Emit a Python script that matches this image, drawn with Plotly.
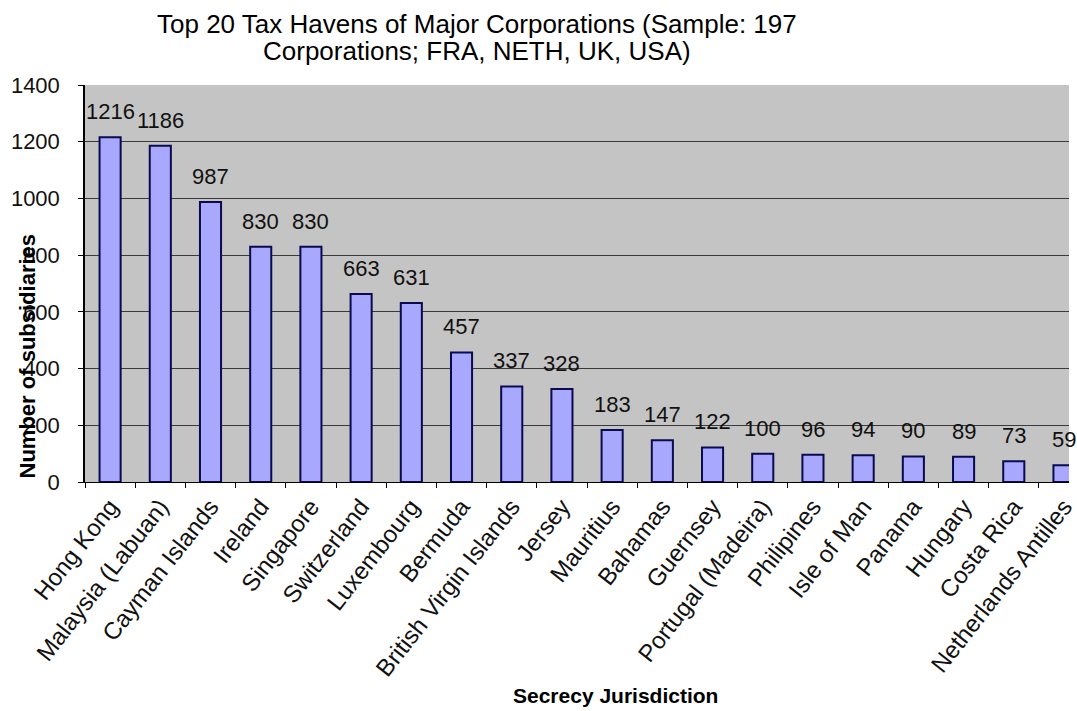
import plotly.graph_objects as go

# Secrecy jurisdictions and number of subsidiaries located there
jurisdictions = [
    "Hong Kong", "Malaysia (Labuan)", "Cayman Islands", "Ireland", "Singapore",
    "Switzerland", "Luxembourg", "Bermuda", "British Virgin Islands", "Jersey",
    "Mauritius", "Bahamas", "Guernsey", "Portugal (Madeira)", "Philipines",
    "Isle of Man", "Panama", "Hungary", "Costa Rica", "Netherlands Antilles",
]
subsidiaries = [1216, 1186, 987, 830, 830, 663, 631, 457, 337, 328,
                183, 147, 122, 100, 96, 94, 90, 89, 73, 59]
y_ticks = [0, 200, 400, 600, 800, 1000, 1200, 1400]
title_lines = ["Top 20 Tax Havens of Major Corporations (Sample: 197",
               "Corporations; FRA, NETH, UK, USA)"]

FONT = "Liberation Sans, Arial, sans-serif"
W, H = 1077, 711
L, R, T, B = 85, 0, 85, 229

fig = go.Figure()
fig.add_trace(go.Bar(
    x=jurisdictions,
    y=subsidiaries,
    marker=dict(color="#A8A8FF", line=dict(color="#0A0A50", width=2)),
    width=0.42,
    hoverinfo="x+y",
))

# value labels above the bars
for name, val in zip(jurisdictions, subsidiaries):
    fig.add_annotation(
        x=name, y=val, text=str(val), showarrow=False,
        yanchor="bottom", yshift=11,
        font=dict(family=FONT, size=22, color="#111111"),
    )

pw = W - L - R
ph = H - T - B


def px_x(x):
    return (x - L) / pw


def px_y(y):
    return (H - B - y) / ph


# chart title, one annotation per line for tight line spacing
for line, yc in zip(title_lines, [24, 51]):
    fig.add_annotation(
        xref="paper", yref="paper", x=px_x(480), y=px_y(yc),
        text=line, showarrow=False, xanchor="center", yanchor="middle",
        font=dict(family=FONT, size=26, color="#000000"),
    )

# axis titles
fig.add_annotation(
    xref="paper", yref="paper", x=px_x(27), y=px_y(356),
    text="<b>Number of subsidiaries</b>", textangle=-90, showarrow=False,
    xanchor="center", yanchor="middle",
    font=dict(family=FONT, size=22, color="#000000"),
)
fig.add_annotation(
    xref="paper", yref="paper", x=px_x(620), y=px_y(695),
    text="<b>Secrecy Jurisdiction</b>", showarrow=False,
    xanchor="center", yanchor="middle",
    font=dict(family=FONT, size=21, color="#000000"),
)

fig.update_layout(
    width=W, height=H,
    margin=dict(l=L, r=R, t=T, b=B),
    paper_bgcolor="white",
    plot_bgcolor="#C4C4C4",
    showlegend=False,
    font=dict(family=FONT, color="#000000"),
)

fig.update_xaxes(
    range=[-0.5, 19.1],
    tickangle=-52,
    tickfont=dict(family=FONT, size=24, color="#111111"),
    ticks="outside", ticklen=5, tickcolor="#000000",
    tickson="boundaries",
    showline=True, linecolor="#000000", linewidth=1,
    showgrid=False,
)
fig.update_yaxes(
    range=[0, 1400],
    tickvals=y_ticks,
    tickfont=dict(family=FONT, size=22, color="#111111"),
    ticks="outside", ticklen=5, tickcolor="#000000",
    ticklabelstandoff=14,
    showline=True, linecolor="#000000", linewidth=1.5,
    showgrid=True, gridcolor="#3A3A3A", gridwidth=1,
    zeroline=False,
)

fig.write_html("out.html")
